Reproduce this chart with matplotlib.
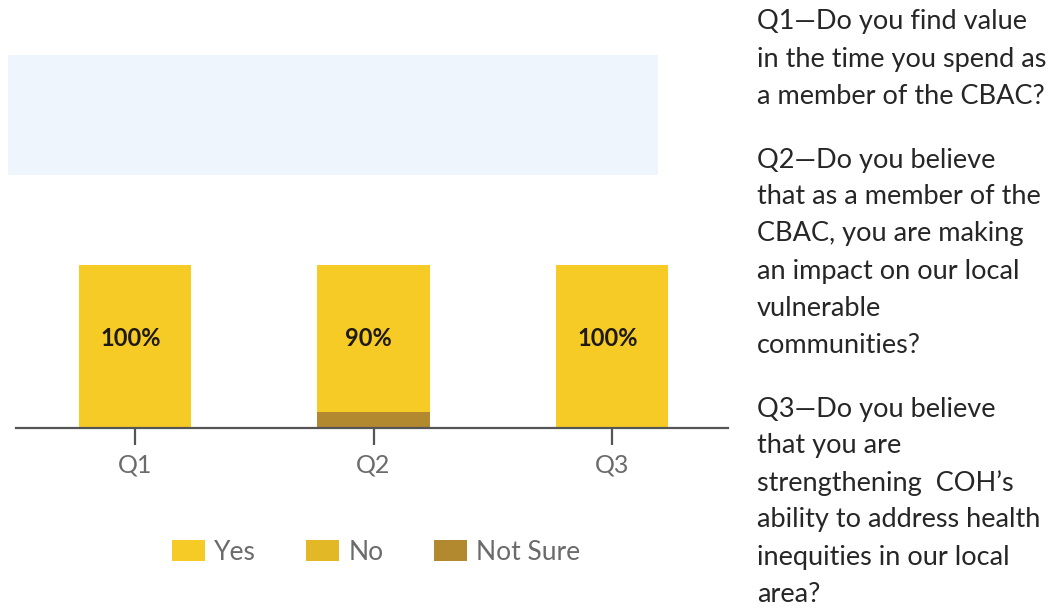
import matplotlib
matplotlib.use("Agg")
import matplotlib.pyplot as plt
from matplotlib.patches import Patch, Rectangle

# survey data (percent)
questions = ["Q1", "Q2", "Q3"]
yes = [100, 90, 100]
no = [0, 0, 0]
not_sure = [0, 10, 0]
bar_labels = ["100%", "90%", "100%"]

series_names = ["Yes", "No", "Not Sure"]
colors = ["#F6CB26", "#E2B827", "#B3892F"]

q1_lines = ["Q1\u2014Do you find value",
            "in the time you spend as",
            "a member of the CBAC?"]
q2_lines = ["Q2\u2014Do you believe",
            "that as a member of the",
            "CBAC, you are making",
            "an impact on our local",
            "vulnerable",
            "communities?"]
q3_lines = ["Q3\u2014Do you believe",
            "that you are",
            "strengthening  COH\u2019s",
            "ability to address health",
            "inequities in our local",
            "area?"]

FONT = ["Lato", "DejaVu Sans"]
W, H = 1058, 615
fig = plt.figure(figsize=(W / 100, H / 100), dpi=100)
fig.patch.set_facecolor("white")

# light blue band above the bars
fig.patches.append(Rectangle((8 / W, 1 - 175 / H), 650 / W, 120 / H,
                             transform=fig.transFigure, facecolor="#EEF5FD",
                             edgecolor="none", zorder=0))

ax = fig.add_axes([16 / W, 1 - 428 / H, 712 / W, 373 / H])
ax.set_facecolor("none")

x = list(range(len(questions)))
width = 0.47
ax.bar(x, not_sure, width, color=colors[2], zorder=2)
ax.bar(x, no, width, bottom=not_sure, color=colors[1], zorder=2)
bottoms = [a + b for a, b in zip(not_sure, no)]
ax.bar(x, yes, width, bottom=bottoms, color=colors[0], zorder=2)

for xi, lab in zip(x, bar_labels):
    ax.text(xi - 0.02, 55, lab, ha="center", va="center", fontsize=17,
            fontweight="bold", color="#1e1a10", family=FONT)

ax.set_xlim(-0.499, 2.486)
ax.set_ylim(0, 228.8)
for s in ["top", "right", "left"]:
    ax.spines[s].set_visible(False)
ax.spines["bottom"].set_color("#555555")
ax.spines["bottom"].set_linewidth(1.6)
ax.set_yticks([])
ax.set_xticks(x)
ax.set_xticklabels(questions)
ax.tick_params(axis="x", direction="out", length=12, width=1.6, color="#555555",
               pad=6, labelsize=18, labelcolor="#6b6b6b")
for t in ax.get_xticklabels():
    t.set_family(FONT)

handles = [Patch(facecolor=c, edgecolor="none") for c in colors]
leg = fig.legend(handles, series_names, loc="center", ncol=3,
                 bbox_to_anchor=(376 / W, 1 - 552 / H), frameon=False,
                 handlelength=1.25, handleheight=0.85, handletextpad=0.35,
                 columnspacing=1.9, prop={"family": FONT, "size": 19})
for t in leg.get_texts():
    t.set_color("#6b6b6b")

# question text on the right
line_h = 37
para_gap = 27
y = 22
for block in [q1_lines, q2_lines, q3_lines]:
    for line in block:
        fig.text(757 / W, 1 - y / H, line, ha="left", va="center", fontsize=19.5,
                 color="#262626", family=FONT)
        y += line_h
    y += para_gap

fig.savefig("out.png", dpi=100, facecolor="white")
